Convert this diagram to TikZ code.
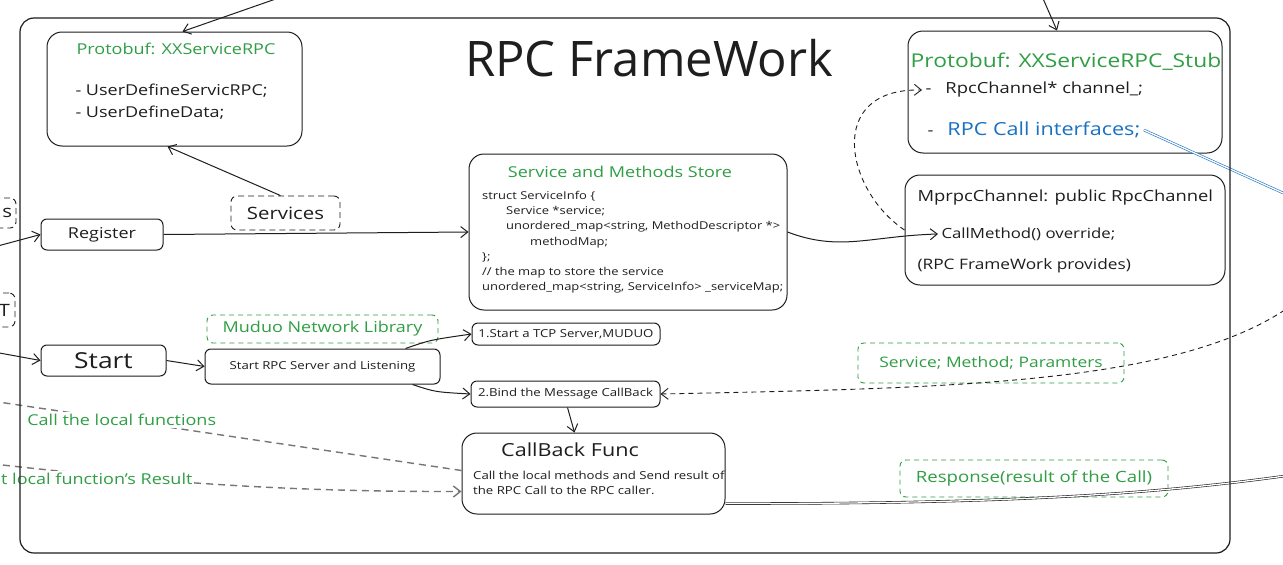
\documentclass[tikz,border=0pt]{standalone}
\usepackage{fontspec}
\setmainfont{Open Sans}[FakeStretch=1.2]
\newfontfamily\titlefont{Open Sans}
\usetikzlibrary{arrows.meta}
\usetikzlibrary{positioning}
\definecolor{exgreen}{HTML}{2F9E44}
\definecolor{exblue}{HTML}{1971C2}
\definecolor{exgrey}{HTML}{767676}
\definecolor{exink}{HTML}{1E1E1E}
\tikzset{
  fsz/.style={font=\fontsize{#1}{#1}\selectfont},
  box/.style={draw=exink,line width=1pt,rounded corners=6pt,inner sep=0pt,text=exink},
  bigbox/.style={box,rounded corners=15pt},
  dbox/.style={draw=exink,dash pattern=on 6pt off 4pt,line width=0.9pt,rounded corners=6pt,inner sep=0pt,text=exink},
  gbox/.style={draw=exgreen,dash pattern=on 5pt off 4pt,line width=0.9pt,rounded corners=6pt,inner sep=0pt,text=exgreen},
  link/.style={draw=exink,line width=1pt,-{Straight Barb[length=7pt,width=11pt]}},
  dlink/.style={draw=exink,line width=0.9pt,dash pattern=on 5pt off 4pt,-{Straight Barb[length=7pt,width=11pt]}},
  glink/.style={draw=exgrey,line width=1.4pt,dash pattern=on 7pt off 5pt},
  twin/.style={draw=#1,line width=0.6pt,double=white,double distance=1.3pt},
  lbl/.style={fill=white,inner sep=2pt,text=exgreen},
}

\begin{document}
\begin{tikzpicture}[x=1pt,y=-1pt]
\useasboundingbox (0,0) rectangle (1283,565);
\clip (0,0) rectangle (1283,565);
\fill[white] (0,0) rectangle (1283,565);

\node[font=\titlefont\fontsize{49}{49}\selectfont,text=exink] (title) at (649,58) {RPC FrameWork};

\node[bigbox,minimum width=255pt,minimum height=114pt] (rpcbox) at (174.5,89) {};
\node[fsz=15,text=exgreen] (rpctitle) at (176,49) {Protobuf: XXServiceRPC};
\node[fsz=15,text=exink,anchor=west] (rpcA) at (72,91) {- UserDefineServicRPC;};
\node[fsz=15,text=exink,below=1pt of rpcA.south west,anchor=north west] (rpcB) {- UserDefineData;};

\node[bigbox,minimum width=314pt,minimum height=122pt] (stub) at (1065,92) {};
\node[fsz=19,text=exgreen] (stubtitle) at (1066,62) {Protobuf: XXServiceRPC\_Stub};
\node[fsz=15.3,text=exink,anchor=west] (chanA) at (922,90) {-\hspace{14pt}RpcChannel* channel\_;};
\node[fsz=15.3,text=exink,anchor=west] (ifc) at (924,130) {-\hspace{14pt}\textcolor{exblue}{\fontsize{18}{18}\selectfont RPC Call interfaces;}};

\node[bigbox,minimum width=320pt,minimum height=110pt] (channel) at (1065,230) {};
\node[fsz=15.3,text=exink,anchor=west] (chtitle) at (914,198) {MprpcChannel: public RpcChannel};
\node[fsz=14,text=exink,anchor=west] (callm) at (938,234) {CallMethod() override;};
\node[fsz=14.4,text=exink,anchor=west] (chnote) at (914,266) {(RPC FrameWork provides)};

\node[bigbox,minimum width=318pt,minimum height=156pt] (store) at (628,232) {};
\node[fsz=15,text=exgreen] (sttitle) at (620,172) {Service and Methods Store};
\node[font=\fontsize{10.8}{15.2}\selectfont,text=exink,align=left,anchor=north west,inner sep=0pt] (stcode) at (482,191)
{struct ServiceInfo \{\\
\hspace*{24pt}Service *service;\\
\hspace*{24pt}unordered\_map<string, MethodDescriptor *>\\
\hspace*{48pt}methodMap;\\
\};\\
// the map to store the service\\
unordered\_map<string, ServiceInfo> \_serviceMap;};

\node[dbox,fsz=17,minimum width=109pt,minimum height=34pt] (services) at (285.5,213) {Services};
\node[box,fsz=15,minimum width=122pt,minimum height=31pt] (register) at (102,234.5) {Register};
\node[box,fsz=22,minimum width=125pt,minimum height=31pt] (start) at (103.5,360.5) {Start};
\node[gbox,fsz=15,minimum width=231pt,minimum height=28pt] (muduo) at (322.5,329) {Muduo Network Library};
\node[box,fsz=11,minimum width=235pt,minimum height=35pt] (listen) at (322.5,366.5) {Start RPC Server and Listening};
\node[box,fsz=11,minimum width=188pt,minimum height=22pt] (tcp) at (566,334) {1.Start a TCP Server,MUDUO};
\node[box,fsz=11,minimum width=189pt,minimum height=26pt] (bind) at (565.5,394) {2.Bind the Message CallBack};
\node[gbox,fsz=14.5,minimum width=266pt,minimum height=40pt] (params) at (991,363) {Service; Method; Paramters};
\node[gbox,fsz=15.5,minimum width=268pt,minimum height=37pt] (response) at (1034,478.5) {Response(result of the Call)};

\node[bigbox,minimum width=263pt,minimum height=81pt] (callback) at (593.5,473.5) {};
\node[fsz=18,text=exink] (cbtitle) at (570,450) {CallBack Func};
\node[font=\fontsize{11}{14.5}\selectfont,text=exink,align=left,anchor=north west,inner sep=0pt] (cbtext) at (473,471)
{Call the local methods and Send result of\\the RPC Call to the RPC caller.};

\node[dbox,fsz=17,minimum width=110pt,minimum height=30pt,text width=102pt,align=right] (leftS) at (-39,213) {s};
\node[dbox,fsz=17,minimum width=110pt,minimum height=34pt,text width=100pt,align=right] (leftT) at (-40,310) {T};

\coordinate (inTL) at (290,-6);
\coordinate (inTR) at (1041,-6);
\coordinate (inReg) at (-6,247);
\coordinate (inStart) at (-6,352);
\coordinate (outBlue) at (1292,197);
\coordinate (inParams) at (1292,305);
\coordinate (outResp) at (1292,475);
\coordinate (outCall) at (-218,370);
\coordinate (inResult) at (-140,448);

\draw[link] (inTL) -- ([xshift=8pt]rpcbox.north);
\draw[link] (inTR) -- ([xshift=-8pt]stub.north);
\draw[link] ([xshift=-5pt]services.north) -- ([xshift=-7pt]rpcbox.south);
\draw[link] (inReg) -- (register.west);
\draw[link] (register.east) -- (store.west);
\draw[link] (store.east) .. controls (840,252) and (870,236) .. (callm.west);
\draw[dlink] (channel.west) .. controls (845,190) and (825,88) .. (chanA.west);
\draw[twin=exblue] (ifc.east) -- (outBlue);
\draw[link] (inStart) -- (start.west);
\draw[link] (start.east) -- (listen.west);
\draw[link] ([xshift=-35pt]listen.north east) .. controls (430,340) .. (tcp.west);
\draw[link] ([xshift=-28pt]listen.south east) .. controls (435,392) .. (bind.west);
\draw[link] ([xshift=2pt]bind.south) -- ([xshift=-19pt]callback.north);
\draw[dlink] (inParams) .. controls (1180,385) and (950,388) .. (bind.east);
\draw[twin=exink] ([yshift=-30pt]callback.east) .. controls (1000,504) and (1150,495) .. (outResp);

\draw[glink] ([yshift=3pt]callback.west) -- (outCall) node[pos=0.5,lbl,fsz=15] (lcall) {Call the local functions};
\draw[glink,-{Straight Barb[length=7pt,width=11pt]}] (inResult) .. controls (100,478) and (250,492) .. ([yshift=-18pt]callback.west);
\node[lbl,fsz=15,anchor=west] (lres) at (-1,479) {t local function's Result};

\draw[draw=exink,line width=1.2pt,rounded corners=14pt] (20,18) rectangle (1230,553);
\end{tikzpicture}
\end{document}
